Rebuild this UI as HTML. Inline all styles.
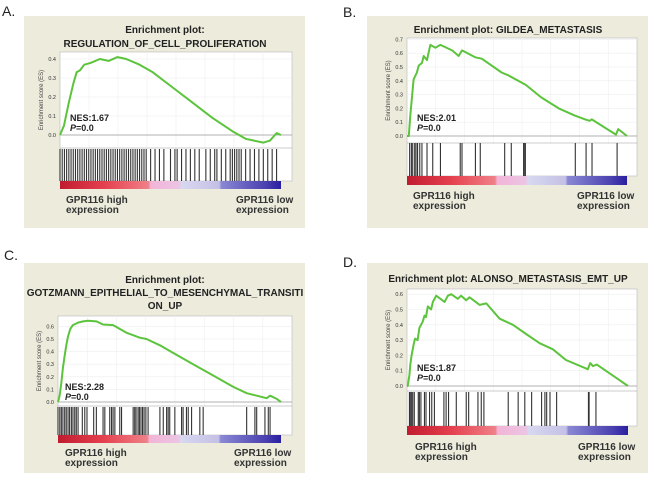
<!DOCTYPE html>
<html><head><meta charset="utf-8"><style>
html,body{margin:0;padding:0;background:#fff;}
svg{display:block;font-family:"Liberation Sans",sans-serif;}
</style></head><body>
<svg id="fig" width="650" height="483" viewBox="0 0 650 483">
<defs>
<linearGradient id="cbar" x1="0" x2="1" y1="0" y2="0">
<stop offset="0" stop-color="#c01c30"/><stop offset="0.2" stop-color="#e5404e"/>
<stop offset="0.4" stop-color="#ef8088"/><stop offset="0.41" stop-color="#f2b4d6"/>
<stop offset="0.54" stop-color="#ecc4e4"/><stop offset="0.55" stop-color="#d8d8f0"/>
<stop offset="0.72" stop-color="#c4c0e6"/><stop offset="0.73" stop-color="#8a88d4"/>
<stop offset="0.93" stop-color="#4a40b0"/><stop offset="1" stop-color="#2a1ea0"/>
</linearGradient>
</defs>
</svg>
<script>
// Panel A data
const esRankA=[0,1.8,4,6,7.5,9,11,14,18,22,26,30,36,42,51,60,69,78,84,92,95,98,100];
const esValA=[0,0.05,0.17,0.27,0.33,0.34,0.37,0.38,0.40,0.39,0.41,0.40,0.37,0.33,0.25,0.17,0.09,0.02,-0.02,-0.04,-0.03,0.01,0.0];
const hitsA=[0,1,2,3,4,5,6,7,8,9,10,11,12,13,14,15,16,17,18,19,20,21,22,23,24,25,26,27,28,29,30,31,32,33,34,35,36,37,38,39,41,43,45,47,50,52,53,55,57,59,61,63,66,68,70,71,73,75,77,78,79,80,81,82,84,86,88,90,92,94,96,98];
const ticksA=[0,0.1,0.2,0.3,0.4];
// Panel B data
const esRankB=[0,0.8,1.5,2.3,3,4.5,5.3,6.8,7.6,9.1,10.6,12.9,15.2,20.5,23.5,25,31,34,43,46,54,61,69,76,81,83,84,93,95,96,100];
const esValB=[0,0,0.15,0.29,0.41,0.46,0.51,0.53,0.58,0.55,0.66,0.64,0.66,0.62,0.58,0.62,0.57,0.56,0.46,0.44,0.37,0.28,0.20,0.15,0.12,0.11,0.12,0.03,0.01,0.05,0.0];
const hitsB=[1.2,2,2.6,3.5,4.1,4.8,5.8,6.8,9.1,11.7,15.2,24.2,25,31.1,33.3,44.4,47.4,53,53.5,53.8,76.5,81.4,84.1,95.5];
const ticksB=[0,0.1,0.2,0.3,0.4,0.5,0.6,0.7];
// Panel C data
const esRankC=[0,0.7,1.5,2.2,3,3.7,4.5,5.5,6.7,9,11.2,13.5,17.2,20.2,24.7,30.7,36.7,39.7,45.7,51.6,60.6,69.6,78.6,84.6,89.1,93.6,95.1,98.1,100];
const esValC=[0,0.05,0.15,0.27,0.37,0.45,0.52,0.58,0.61,0.63,0.64,0.645,0.64,0.615,0.61,0.55,0.51,0.50,0.45,0.39,0.30,0.21,0.12,0.07,0.05,0.03,0.05,0.025,0];
const hitsC=[0,0.8,1.5,2.2,3,3.7,4.5,5.2,6,6.7,7.5,8.2,9,10.9,12,13,16,17.2,20.2,21,23.2,24,24.7,25.5,27.7,28.5,33.7,34.4,35,35.9,36.5,37.2,37.9,38.6,39.4,40.4,45.7,47.2,48.7,49.4,50.1,52.4,55.4,56.1,57.6,58.4,59.9,63.6,65.1,84.6,88.3,89.1,92.8,94.3,95.1];
const ticksC=[0,0.1,0.2,0.3,0.4,0.5,0.6];
// Panel D data
const esRankD=[0,0.3,1.1,1.5,2.1,3,3.6,4.8,5.6,7.1,7.9,8.6,9.4,10.9,11.7,13.2,17,18.5,20,23,24.5,26.8,28.3,32.9,35.9,41.9,47.9,53.9,60,66,71.9,81.8,82.9,84.1,85.9,93,100];
const esValD=[0,0,0.07,0.14,0.20,0.27,0.31,0.30,0.38,0.42,0.46,0.45,0.52,0.50,0.55,0.59,0.55,0.59,0.60,0.57,0.59,0.56,0.58,0.53,0.54,0.44,0.40,0.34,0.28,0.24,0.17,0.11,0.15,0.13,0.14,0.07,0];
const hitsD=[1.1,1.5,2.1,2.6,3.3,5.1,5.6,6.3,7.9,8.6,10.2,11.2,12.4,16.7,17.7,18.8,22.3,26.8,27.9,32.1,33.6,34.8,45.8,50.3,53.3,56.4,60.9,62.4,63.2,64.7,67.7,82.1,82.4,85.5];
const ticksD=[0,0.1,0.2,0.3,0.4,0.5,0.6];

const NS='http://www.w3.org/2000/svg';
const svg=document.getElementById('fig');
function mk(tag,attrs,parent,text){const e=document.createElementNS(NS,tag);for(const k in attrs)e.setAttribute(k,attrs[k]);if(text!==undefined)e.textContent=text;(parent||svg).appendChild(e);return e;}

const panels=[
 {id:'a',letter:'A.',lx:2,ly:16,box:[24,16,281,212],titles:['Enrichment plot:','REGULATION_OF_CELL_PROLIFERATION'],ty:[33,47],tcx:165,
  px0:60,px1:292,bx1:281,top:52,zero:135,per:190,esBot:148,hitTop:149,hitBot:181,cTop:181,cBot:189,
  ranks:esRankA,vals:esValA,hits:hitsA,ticks:ticksA,nes:'NES:1.67',nx:70,ny:121,lab:[66,236],labY:[203,213]},
 {id:'b',letter:'B.',lx:343,ly:17,box:[367,16,281,212],titles:['Enrichment plot: GILDEA_METASTASIS'],ty:[33],tcx:508,
  px0:407,px1:637,bx1:627,top:38,zero:136,per:138,esBot:143,hitTop:143,hitBot:176,cTop:176,cBot:185,
  ranks:esRankB,vals:esValB,hits:hitsB,ticks:ticksB,nes:'NES:2.01',nx:417,ny:121,lab:[413,577],labY:[199,209]},
 {id:'c',letter:'C.',lx:4,ly:260,box:[24,263,281,210],titles:['Enrichment plot:','GOTZMANN_EPITHELIAL_TO_MESENCHYMAL_TRANSITI','ON_UP'],ty:[283,296,309],tcx:165,
  px0:58,px1:292,bx1:281,top:316,zero:402,per:126,esBot:406,hitTop:407,hitBot:435,cTop:435,cBot:443,
  ranks:esRankC,vals:esValC,hits:hitsC,ticks:ticksC,nes:'NES:2.28',nx:65,ny:390,lab:[65,234],labY:[456,466]},
 {id:'d',letter:'D.',lx:343,ly:267,box:[367,263,281,210],titles:['Enrichment plot: ALONSO_METASTASIS_EMT_UP'],ty:[282],tcx:508,
  px0:407,px1:637,bx1:628,top:289,zero:386,per:153,esBot:391,hitTop:392,hitBot:426,cTop:426,cBot:435,
  ranks:esRankD,vals:esValD,hits:hitsD,ticks:ticksD,nes:'NES:1.87',nx:417,ny:371,lab:[415,578],labY:[450,460]}
];

panels.forEach(p=>{
 const g=mk('g',{});
 
 
 const L=mk('text',{x:p.lx,y:p.ly,'font-size':14,fill:'#222'},g,p.letter);
 
 
 const bg=mk('rect',{x:p.box[0],y:p.box[1],width:p.box[2],height:p.box[3],fill:'#ecebdc'},g);
 
 
 p.titles.forEach((t,i)=>{
  const te=mk('text',{x:p.tcx,y:p.ty[i],'text-anchor':'middle','font-size':10,'font-weight':'bold',fill:'#222'},g,t);
  
  
 });
 const xr=r=>p.px0+(p.bx1-p.px0)*r/100;
 const yv=v=>p.zero-v*p.per;
 const pr=mk('rect',{x:p.px0,y:p.top,width:p.px1-p.px0,height:p.hitBot-p.top,fill:'#fff',stroke:'#bbb','stroke-width':0.6},g);
 
 
 for(let k=1;k<8;k++){const x=p.px0+(p.px1-p.px0)*k/8;mk('line',{x1:x,x2:x,y1:p.top,y2:p.esBot,stroke:'#eee','stroke-width':0.6},g);}
 p.ticks.forEach(t=>{
  const y=yv(t);
  mk('line',{x1:p.px0,x2:p.px1,y1:y,y2:y,stroke:t===0?'#999':'#eee','stroke-width':t===0?0.8:0.6},g);
  const tl=mk('text',{x:p.px0-4,y:y+2,'text-anchor':'end','font-size':5.5,fill:'#333'},g,t.toFixed(1));
  
  
 });
 mk('line',{x1:p.px0,x2:p.px1,y1:p.esBot,y2:p.esBot,stroke:'#999','stroke-width':0.6},g);
 const cy=(p.top+p.esBot)/2;
 const yt=mk('text',{x:p.px0-17,y:cy,transform:`rotate(-90 ${p.px0-17} ${cy})`,'text-anchor':'middle','font-size':6,fill:'#444'},g,'Enrichment score (ES)');
 
 
 p.hits.forEach(h=>{
  const hl=mk('line',{x1:xr(h),x2:xr(h),y1:p.hitTop,y2:p.hitBot,stroke:'#333','stroke-width':1.1},g);
  
  
 });
 const cb=mk('rect',{x:p.px0,y:p.cTop,width:p.bx1-p.px0,height:p.cBot-p.cTop,fill:'url(#cbar)'},g);
 
 
 const pts=p.ranks.map((r,i)=>xr(r).toFixed(1)+','+yv(p.vals[i]).toFixed(1)).join(' ');
 const line=mk('polyline',{points:pts,fill:'none',stroke:'#5cc43c','stroke-width':2,'stroke-linejoin':'round'},g);
 
 
 const n=mk('text',{x:p.nx,y:p.ny,'font-size':9,'font-weight':'bold',fill:'#222'},g,p.nes);
 
 
 const pv=mk('text',{x:p.nx,y:p.ny+10,'font-size':9,'font-weight':'bold',fill:'#222'},g);
 
 
 mk('tspan',{'font-style':'italic'},pv,'P');
 mk('tspan',{},pv,'=0.0');
 [[p.lab[0],'GPR116 high'],[p.lab[1],'GPR116 low']].forEach(([x,t],i)=>{
  const a=mk('text',{x:x,y:p.labY[0],'font-size':10,'font-weight':'bold',fill:'#333'},g,t);
  
  
  mk('text',{x:x,y:p.labY[1],'font-size':10,'font-weight':'bold',fill:'#333'},g,'expression');
 });
});
</script>
</body></html>
